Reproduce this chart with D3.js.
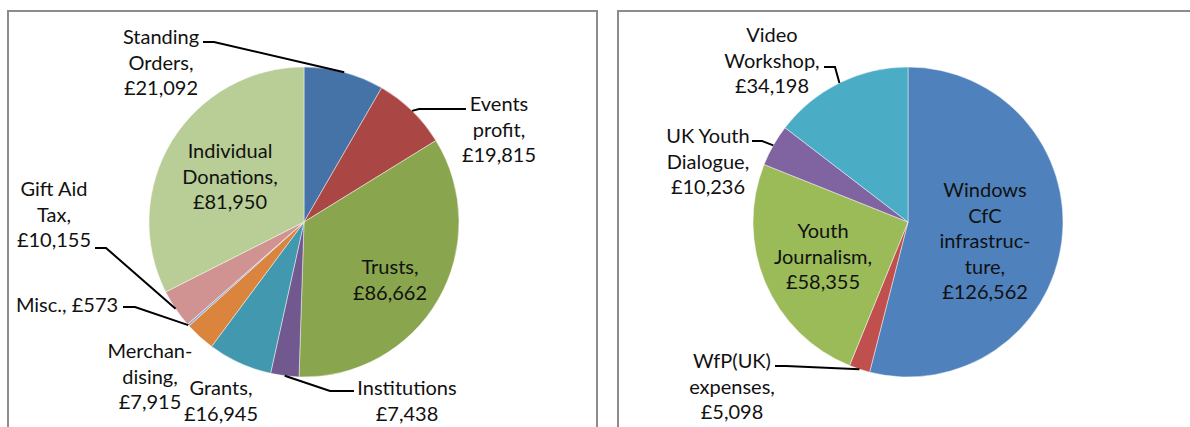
<!DOCTYPE html>
<html>
<head>
<meta charset="utf-8">
<script src="https://cdn.jsdelivr.net/npm/d3@7"></script>
<style>
  body { margin: 0; background: #fff; }
  svg { display: block; }
  text { font-family: Lato, "Open Sans", sans-serif; font-size: 20px; fill: #111; }
</style>
</head>
<body>
<div id="chart"></div>
<script>
// Income breakdown (left pie), clockwise from 12 o'clock
const incomeNames = ['Standing\nOrders,', 'Events\nprofit,', 'Trusts,', 'Institutions', 'Grants,',
  'Merchan-\ndising,', 'Misc.,', 'Gift Aid\nTax,', 'Individual\nDonations,'];
const incomeValues = [21092, 19815, 86662, 7438, 16945, 7915, 573, 10155, 81950];
const incomeColors = ['#4572a7', '#aa4643', '#89a54e', '#71588f', '#4198af', '#db843d', '#93a9cf', '#d19392', '#b9cd96'];

// Spending breakdown (right pie)
const spendNames = ['Windows\nCfC\ninfrastruc-\nture,', 'WfP(UK)\nexpenses,', 'Youth\nJournalism,',
  'UK Youth\nDialogue,', 'Video\nWorkshop,'];
const spendValues = [126562, 5098, 58355, 10236, 34198];
const spendColors = ['#4f81bd', '#c0504d', '#9bbb59', '#8064a2', '#4bacc6'];

const W = 1190, H = 427;
const money = v => '£' + d3.format(',')(v);

const svg = d3.select('#chart').append('svg')
  .attr('width', W).attr('height', H);

// chart frames
svg.append('rect').attr('x', 8).attr('y', 11).attr('width', 589).attr('height', 440)
  .attr('fill', 'none').attr('stroke', '#8c8c8c').attr('stroke-width', 2);
svg.append('rect').attr('x', 618).attr('y', 11).attr('width', 600).attr('height', 440)
  .attr('fill', 'none').attr('stroke', '#8c8c8c').attr('stroke-width', 2);

// label layout: x centre, y of first line, optional leader (text end point, knee) and single-line flag
const incomeLayout = [
  { x: 161, y: 36, lead: [[203, 42], [214, 42]] },
  { x: 499, y: 103, lead: [[466, 109], [419, 109]] },
  { x: 390, y: 266 },
  { x: 407, y: 387, lead: [[354, 391], [330, 391]] },
  { x: 221, y: 387 },
  { x: 150, y: 350 },
  { x: 67, y: 304, inline: true, lead: [[123, 307], [135, 307]] },
  { x: 54, y: 188, lead: [[95, 248], [106, 248]] },
  { x: 230, y: 150 }
];
const spendLayout = [
  { x: 985, y: 189 },
  { x: 732, y: 360, lead: [[775, 366], [786, 366]] },
  { x: 823, y: 230 },
  { x: 708, y: 135, lead: [[752, 141], [762, 141]] },
  { x: 772, y: 34, lead: [[824, 67], [835, 67]] }
];

function drawPie(cx, cy, r, names, values, colors, layout) {
  const g = svg.append('g').attr('transform', `translate(${cx},${cy})`);
  const arcs = d3.pie().sort(null)(values);
  const arc = d3.arc().innerRadius(0).outerRadius(r);

  g.selectAll('path.slice')
    .data(arcs)
    .join('path')
    .attr('class', 'slice')
    .attr('d', arc)
    .attr('fill', (d, i) => colors[i])
    .attr('stroke', 'rgba(255,255,255,0.45)')
    .attr('stroke-width', 1);

  const lh = 25.5;
  arcs.forEach((d, i) => {
    const L = layout[i];
    const lines = L.inline ? [names[i] + ' ' + money(values[i])] : names[i].split('\n').concat(money(values[i]));
    const t = svg.append('text')
      .attr('text-anchor', 'middle')
      .attr('dominant-baseline', 'central');
    lines.forEach((s, k) => {
      t.append('tspan').attr('x', L.x).attr('y', L.y + k * lh).text(s);
    });

    if (L.lead) {
      const mid = (d.startAngle + d.endAngle) / 2;
      const px = cx + r * Math.sin(mid), py = cy - r * Math.cos(mid);
      svg.append('polyline')
        .attr('points', [L.lead[0], L.lead[1], [px, py]].map(p => p.join(',')).join(' '))
        .attr('fill', 'none')
        .attr('stroke', '#000')
        .attr('stroke-width', 2);
    }
  });
}

drawPie(304, 222, 155, incomeNames, incomeValues, incomeColors, incomeLayout);
drawPie(908, 222, 155, spendNames, spendValues, spendColors, spendLayout);
</script>
</body>
</html>
